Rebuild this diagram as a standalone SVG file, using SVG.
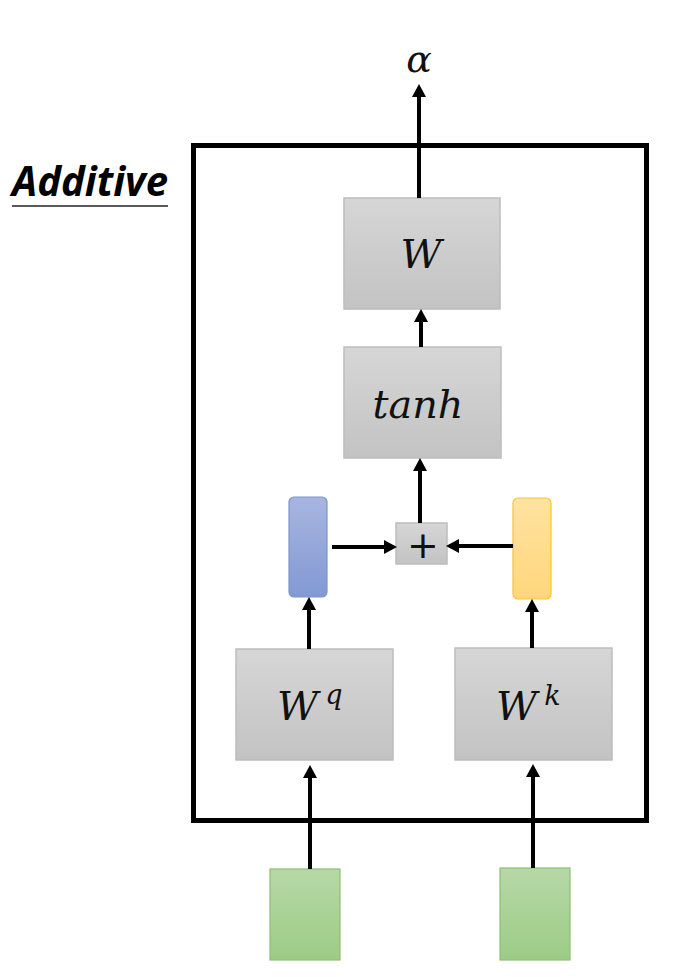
<svg xmlns="http://www.w3.org/2000/svg" width="690" height="977" viewBox="0 0 690 977">
<style>
.grey{stroke:#bdbdbd;stroke-width:1.5;fill:url(#gGrey)}
.math{font-family:"DejaVu Serif","Liberation Serif",serif;font-style:italic;fill:#111}
.conn{stroke:#000;stroke-width:4;fill:none;marker-end:url(#arr)}
</style>
<defs>
<linearGradient id="gGrey" x1="0" y1="0" x2="0" y2="1"><stop offset="0" stop-color="#d6d6d6"/><stop offset="1" stop-color="#c3c3c3"/></linearGradient>
<linearGradient id="gBlue" x1="0" y1="0" x2="0" y2="1"><stop offset="0" stop-color="#a8b5e0"/><stop offset="1" stop-color="#8299d4"/></linearGradient>
<linearGradient id="gYel" x1="0" y1="0" x2="0" y2="1"><stop offset="0" stop-color="#ffe3a0"/><stop offset="1" stop-color="#ffd67c"/></linearGradient>
<linearGradient id="gGreen" x1="0" y1="0" x2="0" y2="1"><stop offset="0" stop-color="#b6d8a6"/><stop offset="1" stop-color="#9dcc86"/></linearGradient>
<marker id="arr" markerUnits="userSpaceOnUse" markerWidth="14" markerHeight="14" viewBox="0 0 13 14" refX="6" refY="7" orient="auto"><path d="M0,0 L13,7 L0,14 z" fill="#000"/></marker>
</defs>
<rect width="690" height="977" fill="#fff"/>
<g id="title">
<text x="12" y="196" font-family="Open Sans, Liberation Sans, sans-serif" font-weight="bold" font-style="italic" font-size="42" textLength="156" lengthAdjust="spacingAndGlyphs" fill="#000">Additive</text>
<line x1="12" y1="206" x2="168" y2="206" stroke="#222" stroke-width="1.5"/>
</g>
<g id="outer"><rect x="193.5" y="145.5" width="453" height="675" fill="none" stroke="#000" stroke-width="5"/></g>
<g id="alpha"><text class="math" x="419" y="72" font-size="38" text-anchor="middle">α</text></g>
<g id="W"><rect class="grey" x="344" y="198" width="156" height="111"/><text class="math" x="421" y="268" font-size="40" text-anchor="middle">W</text></g>
<g id="tanh"><rect class="grey" x="344" y="347" width="157" height="111"/><text class="math" x="418" y="418" font-size="40" text-anchor="middle" textLength="91" lengthAdjust="spacingAndGlyphs">tanh</text></g>
<g id="plus"><rect class="grey" x="396" y="523" width="51" height="41"/><text x="423" y="558" font-family="DejaVu Sans, sans-serif" font-size="38" text-anchor="middle" fill="#111">+</text></g>
<g id="query"><rect x="289" y="497" width="38" height="100" rx="5" fill="url(#gBlue)" stroke="#7d93cf" stroke-width="1.2"/></g>
<g id="key"><rect x="513" y="498" width="38" height="101" rx="5" fill="url(#gYel)" stroke="#ffc42a" stroke-width="1.2"/></g>
<g id="Wq"><rect class="grey" x="236" y="649" width="157" height="111"/><text class="math" x="277" y="720" font-size="40">W<tspan font-size="27" dy="-16" dx="7">q</tspan></text></g>
<g id="Wk"><rect class="grey" x="455" y="648" width="157" height="112"/><text class="math" x="496" y="720" font-size="40">W<tspan font-size="27" dy="-15" dx="7">k</tspan></text></g>
<g id="inputQ"><rect x="270" y="869" width="70" height="91" fill="url(#gGreen)" stroke="#8cbf73" stroke-width="1.2"/></g>
<g id="inputK"><rect x="500" y="868" width="70" height="92" fill="url(#gGreen)" stroke="#8cbf73" stroke-width="1.2"/></g>
<g id="connectors">
<line class="conn" x1="419" y1="198" x2="419" y2="91"/>
<line class="conn" x1="421" y1="347" x2="421" y2="316"/>
<line class="conn" x1="420" y1="523" x2="420" y2="465"/>
<line class="conn" x1="332" y1="547" x2="390" y2="547"/>
<line class="conn" x1="513" y1="546" x2="453" y2="546"/>
<line class="conn" x1="309" y1="649" x2="309" y2="604"/>
<line class="conn" x1="532" y1="648" x2="532" y2="606"/>
<line class="conn" x1="310" y1="869" x2="310" y2="772"/>
<line class="conn" x1="533" y1="868" x2="533" y2="771"/>
</g>
</svg>
